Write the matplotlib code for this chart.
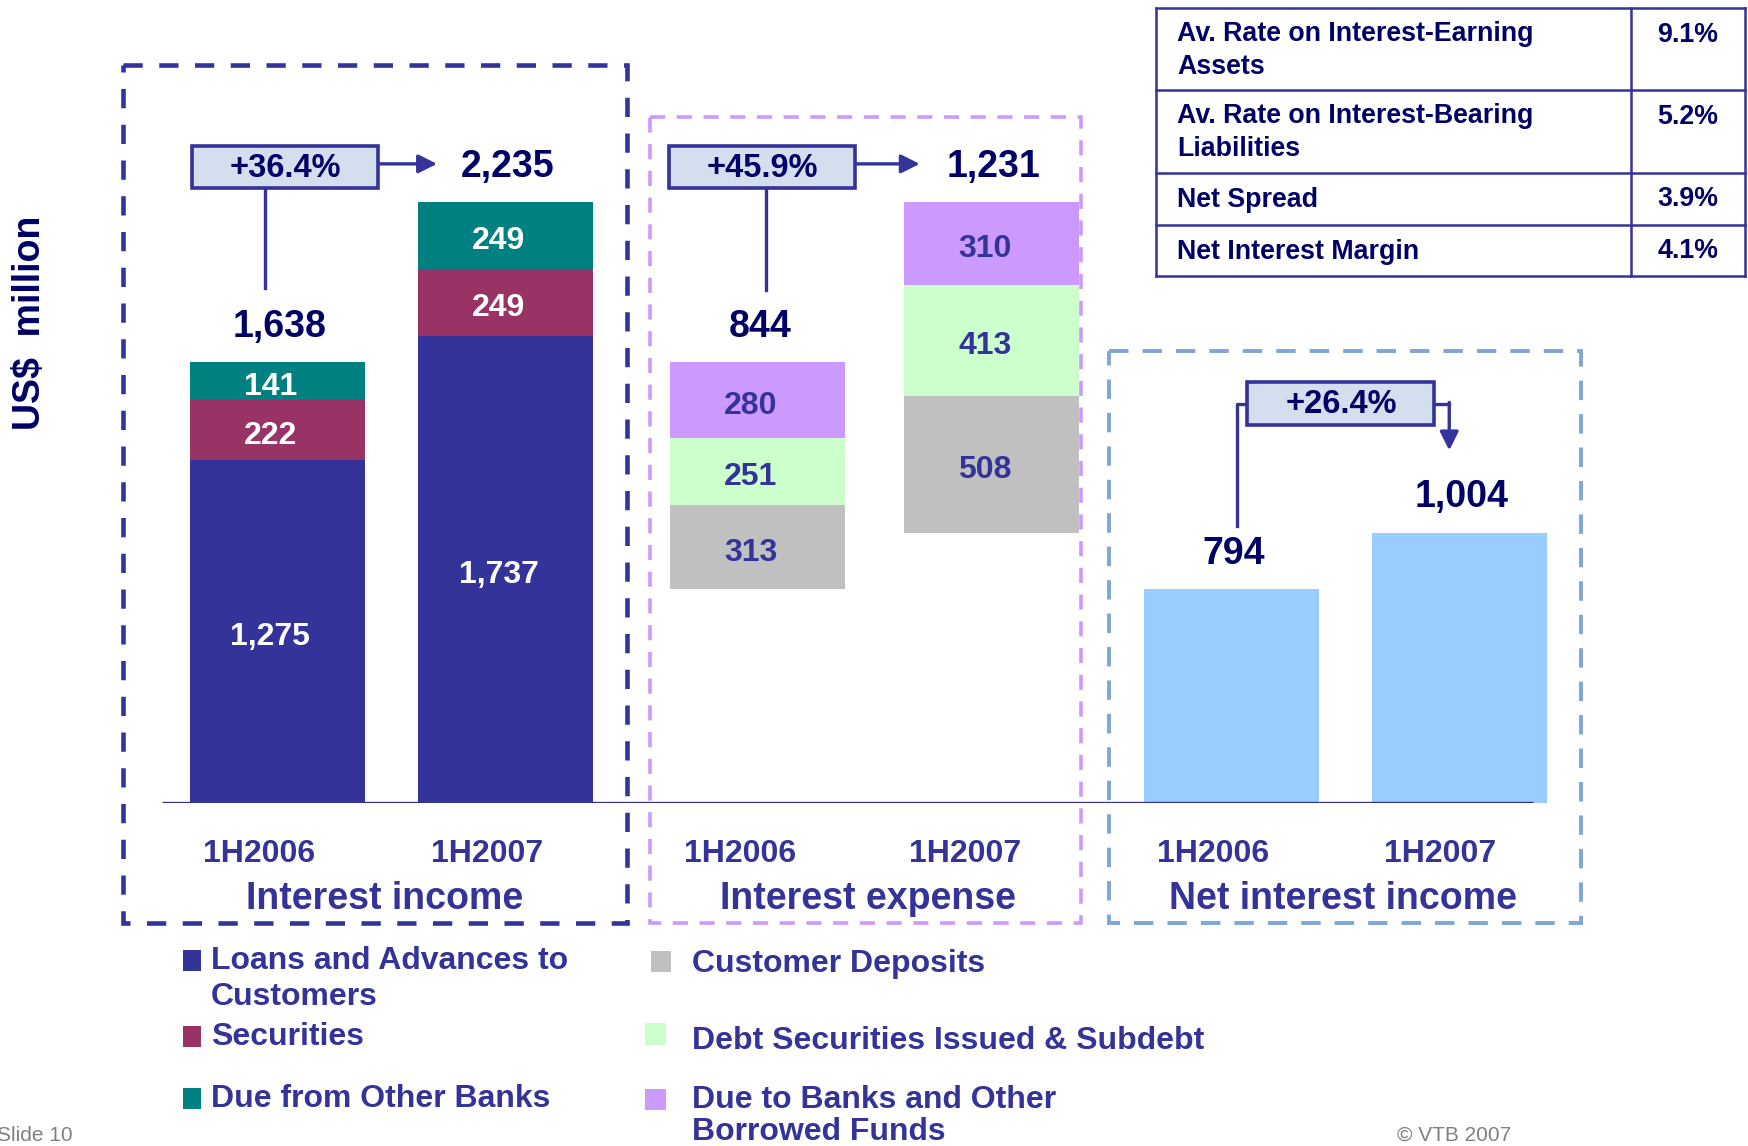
import matplotlib.pyplot as plt
from matplotlib.patches import Rectangle

plt.rcParams['font.family'] = ['Liberation Sans', 'DejaVu Sans']
plt.rcParams['font.weight'] = 'bold'

# values from the slide, US$ million
periods = ['1H2006', '1H2007']
loans = [1275, 1737]
securities = [222, 249]
due_from_banks = [141, 249]
customer_deposits = [313, 508]
debt_securities = [251, 413]
due_to_banks = [280, 310]
net_interest = [794, 1004]

groups = ['Interest income', 'Interest expense', 'Net interest income']

table_labels = ['Av. Rate on Interest-Earning\nAssets',
                'Av. Rate on Interest-Bearing\nLiabilities',
                'Net Spread', 'Net Interest Margin']
table_values = ['9.1%', '5.2%', '3.9%', '4.1%']

legend_income = ['Loans and Advances to\nCustomers', 'Securities', 'Due from Other Banks']
legend_expense = ['Customer Deposits', 'Debt Securities Issued & Subdebt',
                  'Due to Banks and Other\nBorrowed Funds']

# colours
NAVY = '#333399'
DARK = '#000066'
c_loans, c_sec, c_due = '#333399', '#993366', '#008080'
c_dep, c_debt, c_dtb = '#C0C0C0', '#CCFFCC', '#CC99FF'
c_net = '#99CCFF'
BOXFILL = '#D3DEEF'

income_total = [a + b + c for a, b, c in zip(loans, securities, due_from_banks)]
expense_total = [a + b + c for a, b, c in zip(customer_deposits, debt_securities, due_to_banks)]
expense_base = [i - e for i, e in zip(income_total, expense_total)]

W, H = 1568, 1028
fig = plt.figure(figsize=(17.48, 11.46), dpi=100)

# bar axes: y in US$ million, baseline at layout y=720
ax = fig.add_axes([0, 1 - 720 / H, 1, 720 / H])
ax.set_xlim(0, W)
ax.set_ylim(0, 720 / 0.2411)
ax.axis('off')

# layout axes for boxes, labels, table and legend
lay = fig.add_axes([0, 0, 1, 1])
lay.set_xlim(0, W)
lay.set_ylim(H, 0)
lay.axis('off')

bw = 157
inc_x = [248.5, 453.5]
exp_x = [679.5, 889.5]
net_x = [1104.5, 1309.5]


def stack(xs, layers, base, txt_color):
    bottom = list(base)
    for vals, col in layers:
        ax.bar(xs, vals, bw, bottom=bottom, color=col, linewidth=0, zorder=2)
        for x, b, v in zip(xs, bottom, vals):
            ax.annotate(f'{v:,}', (x - 6, b + v / 2), xytext=(0, -4),
                        textcoords='offset points', ha='center', va='center',
                        color=txt_color, fontsize=23, fontweight='bold', zorder=3)
        bottom = [b + v for b, v in zip(bottom, vals)]
    return bottom


inc_top = stack(inc_x, [(loans, c_loans), (securities, c_sec), (due_from_banks, c_due)],
                [0, 0], 'white')
exp_top = stack(exp_x, [(customer_deposits, c_dep), (debt_securities, c_debt), (due_to_banks, c_dtb)],
                expense_base, NAVY)
ax.bar(net_x, net_interest, bw, color=c_net, linewidth=0, zorder=2)

# totals above bars
for xs, tops, totals in [(inc_x, inc_top, income_total), (exp_x, exp_top, expense_total),
                         (net_x, net_interest, net_interest)]:
    for x, t, v in zip(xs, tops, totals):
        ax.annotate(f'{v:,}', (x + 2, t), xytext=(0, 25.5), textcoords='offset points',
                    ha='center', va='center', fontsize=27, fontweight='bold', color=DARK)

ax.plot([145, 1375], [0, 0], color=NAVY, lw=2.4, zorder=4, solid_capstyle='butt')

# dashed group frames
lay.add_patch(Rectangle((110, 58), 452, 770, fill=False, ec=NAVY, lw=3.3,
                        linestyle=(0, (4.2, 3.6))))
lay.add_patch(Rectangle((583, 105), 387, 723, fill=False, ec=c_dtb, lw=2.6,
                        linestyle=(0, (4.2, 3.2))))
lay.add_patch(Rectangle((995, 315), 423, 513, fill=False, ec='#7FA6D6', lw=2.8,
                        linestyle=(0, (5, 3.6))))

# period labels and group titles
for xs, g, gx in [([232, 437], groups[0], 345), ([664, 866], groups[1], 779),
                  ([1088, 1292], groups[2], 1205)]:
    for x, p in zip(xs, periods):
        lay.text(x, 766, p, ha='center', va='center', fontsize=23, color=NAVY)
    lay.text(gx, 806, g, ha='center', va='center', fontsize=27, color=NAVY)

lay.text(27, 290, 'US$  million', rotation=90, ha='center', va='center',
         fontsize=27, color=DARK)


# growth call-outs
def growth_box(x0, y0, pct):
    lay.add_patch(Rectangle((x0, y0), 167, 38, fc=BOXFILL, ec=NAVY, lw=2.6, zorder=5))
    lay.text(x0 + 84, y0 + 20, f'+{pct:.1f}%', ha='center', va='center',
             fontsize=23.5, color=DARK, zorder=6)


arrow = dict(arrowstyle='-|>', color=NAVY, lw=2.4, mutation_scale=28, shrinkA=0, shrinkB=0)

g_inc = (income_total[1] / income_total[0] - 1) * 100
g_exp = (expense_total[1] / expense_total[0] - 1) * 100
g_net = (net_interest[1] / net_interest[0] - 1) * 100

growth_box(172, 131, g_inc)
lay.plot([238, 238], [169, 258], color=NAVY, lw=2.4)
lay.annotate('', xy=(392, 147), xytext=(339, 147), arrowprops=arrow)

growth_box(600, 131, g_exp)
lay.plot([687, 687], [169, 260], color=NAVY, lw=2.4)
lay.annotate('', xy=(825, 147), xytext=(768, 147), arrowprops=arrow)

growth_box(1119, 343, g_net)
lay.plot([1110, 1110, 1119], [472, 362, 362], color=NAVY, lw=2.4)
lay.plot([1286, 1300], [362, 362], color=NAVY, lw=2.4)
lay.annotate('', xy=(1300, 404), xytext=(1300, 361), arrowprops=arrow)

# ratio table
rows = [7, 81, 155, 202, 248]
tl, tr, tm = 1037, 1565, 1463
for y in rows:
    lay.plot([tl, tr], [y, y], color=NAVY, lw=1.8)
for x in [tl, tm, tr]:
    lay.plot([x, x], [rows[0], rows[-1]], color=NAVY, lw=1.8)
for i, (lab, val) in enumerate(zip(table_labels, table_values)):
    yc = (rows[i] + rows[i + 1]) / 2
    lay.text(1056, yc + 1, lab, ha='left', va='center', fontsize=19.3, color=DARK,
             linespacing=1.35)
    vy = rows[i] + 24 if '\n' in lab else yc
    lay.text(1514, vy, val, ha='center', va='center', fontsize=19.3, color=DARK)

# legend
leg_inc = [(164, 852, c_loans, 861), (164, 920, c_sec, 929), (164, 976, c_due, 984)]
for (x, y, col, ty), lab in zip(leg_inc, legend_income):
    lay.add_patch(Rectangle((x, y), 16, 19, fc=col, ec='none'))
    lay.text(189, ty - 12, lab, ha='left', va='top', fontsize=23, color=NAVY,
             linespacing=1.22)
leg_exp = [(584, 853, c_dep, 863), (579, 918, c_debt, 932), (579, 977, c_dtb, 985)]
for (x, y, col, ty), lab in zip(leg_exp, legend_expense):
    lay.add_patch(Rectangle((x, y), 18, 19, fc=col, ec='none'))
    lay.text(621, ty - 12, lab, ha='left', va='top', fontsize=23, color=NAVY,
             linespacing=1.12)

# footer at the slide edge
lay.text(-3, 1027, 'Slide 10', ha='left', va='bottom', fontsize=15, color='#808080',
         fontweight='normal')
lay.text(1253, 1027, '© VTB 2007', ha='left', va='bottom', fontsize=15, color='#808080',
         fontweight='normal')

fig.savefig('out.png', dpi=100)
